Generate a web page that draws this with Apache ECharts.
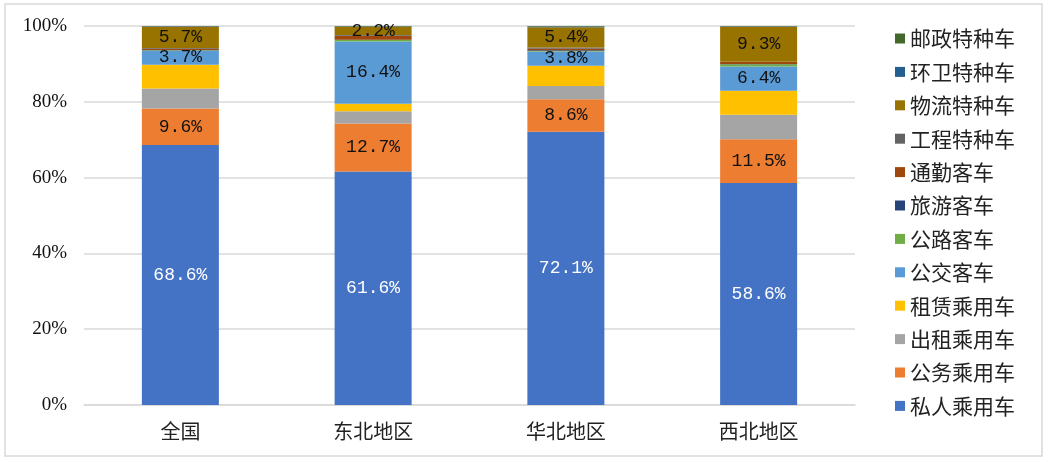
<!DOCTYPE html>
<html lang="zh">
<head>
	<meta charset="UTF-8">
	<title>车辆类型占比</title>
	<style>
		html,body{margin:0;padding:0;background:#fff;}
		#main{width:1049px;height:462px;}
	</style>
</head>
<body>
	<div id="main"></div>
	<script src="https://cdn.jsdelivr.net/npm/echarts@6/dist/echarts.min.js"></script>
	<script>
	var regions = ['全国', '东北地区', '华北地区', '西北地区'];
	var seriesNames = ['私人乘用车', '公务乘用车', '出租乘用车', '租赁乘用车', '公交客车', '公路客车',
		'旅游客车', '通勤客车', '工程特种车', '物流特种车', '环卫特种车', '邮政特种车'];
	var colors = ['#4472C4', '#ED7D31', '#A5A5A5', '#FFC000', '#5B9BD5', '#70AD47',
		'#264478', '#9E480E', '#636363', '#997300', '#255E91', '#43682B'];
	// 各类车辆占比（%），按地区顺序
	var privateCar = [68.6, 61.6, 72.1, 58.6];
	var officialCar = [9.6, 12.7, 8.6, 11.5];
	var taxiCar = [5.3, 3.2, 3.5, 6.5];
	var rentalCar = [6.3, 2.0, 5.3, 6.3];
	var busCar = [3.7, 16.4, 3.8, 6.4];
	var roadBus = [0.1, 0.4, 0.1, 0.6];
	var tourBus = [0.1, 0.1, 0.2, 0.1];
	var commuteBus = [0.3, 1.0, 0.4, 0.5];
	var engineering = [0.2, 0.2, 0.3, 0.1];
	var logistics = [5.7, 2.2, 5.4, 9.3];
	var sanitation = [0.1, 0.1, 0.2, 0.1];
	var postal = [0.0, 0.1, 0.1, 0.0];
	var labelled = ['私人乘用车', '公务乘用车', '公交客车', '物流特种车'];
	var yTicks = [0, 20, 40, 60, 80, 100];

	var allData = [privateCar, officialCar, taxiCar, rentalCar, busCar, roadBus,
		tourBus, commuteBus, engineering, logistics, sanitation, postal];

	var series = seriesNames.map(function(name, i){
		return {
			name: name,
			type: 'bar',
			stack: 'total',
			barWidth: 77,
			data: allData[i],
			itemStyle: {color: colors[i]},
			label: {
				show: labelled.indexOf(name) >= 0,
				position: 'inside',
				formatter: function(p){ return p.value.toFixed(1) + '%'; },
				color: name === '私人乘用车' ? '#fff' : '#111',
				fontFamily: 'Liberation Mono',
				fontSize: 18
			}
		};
	});

	var option = {
		animation: false,
		color: colors,
		grid: {left: 84, right: 194, top: 26, bottom: 57},
		legend: {
			orient: 'vertical',
			left: 890,
			top: 23,
			itemWidth: 10,
			itemHeight: 10,
			itemGap: 12.4,
			icon: 'rect',
			data: seriesNames.slice().reverse(),
			textStyle: {fontFamily: 'Noto Sans CJK SC', fontSize: 21, color: '#222', lineHeight: 20}
		},
		xAxis: {
			type: 'category',
			data: regions,
			axisTick: {show: false},
			axisLine: {lineStyle: {color: '#D9D9D9', width: 1.5}},
			axisLabel: {fontFamily: 'Noto Sans CJK SC', fontSize: 20, color: '#222', margin: 16}
		},
		yAxis: {
			type: 'value',
			min: yTicks[0],
			max: yTicks[yTicks.length - 1],
			interval: 20,
			axisLabel: {
				formatter: '{value}%',
				fontFamily: 'Liberation Serif',
				fontSize: 19,
				color: '#111',
				margin: 17
			},
			splitLine: {lineStyle: {color: '#D9D9D9', width: 1.5}}
		},
		graphic: [{
			type: 'rect',
			shape: {x: 5, y: 4, width: 1037, height: 452},
			style: {fill: 'none', stroke: '#D9D9D9', lineWidth: 1.5},
			silent: true
		}],
		series: series
	};
	var myChart = echarts.init(document.getElementById('main'));
	myChart.setOption(option);
	</script>
</body>
</html>
